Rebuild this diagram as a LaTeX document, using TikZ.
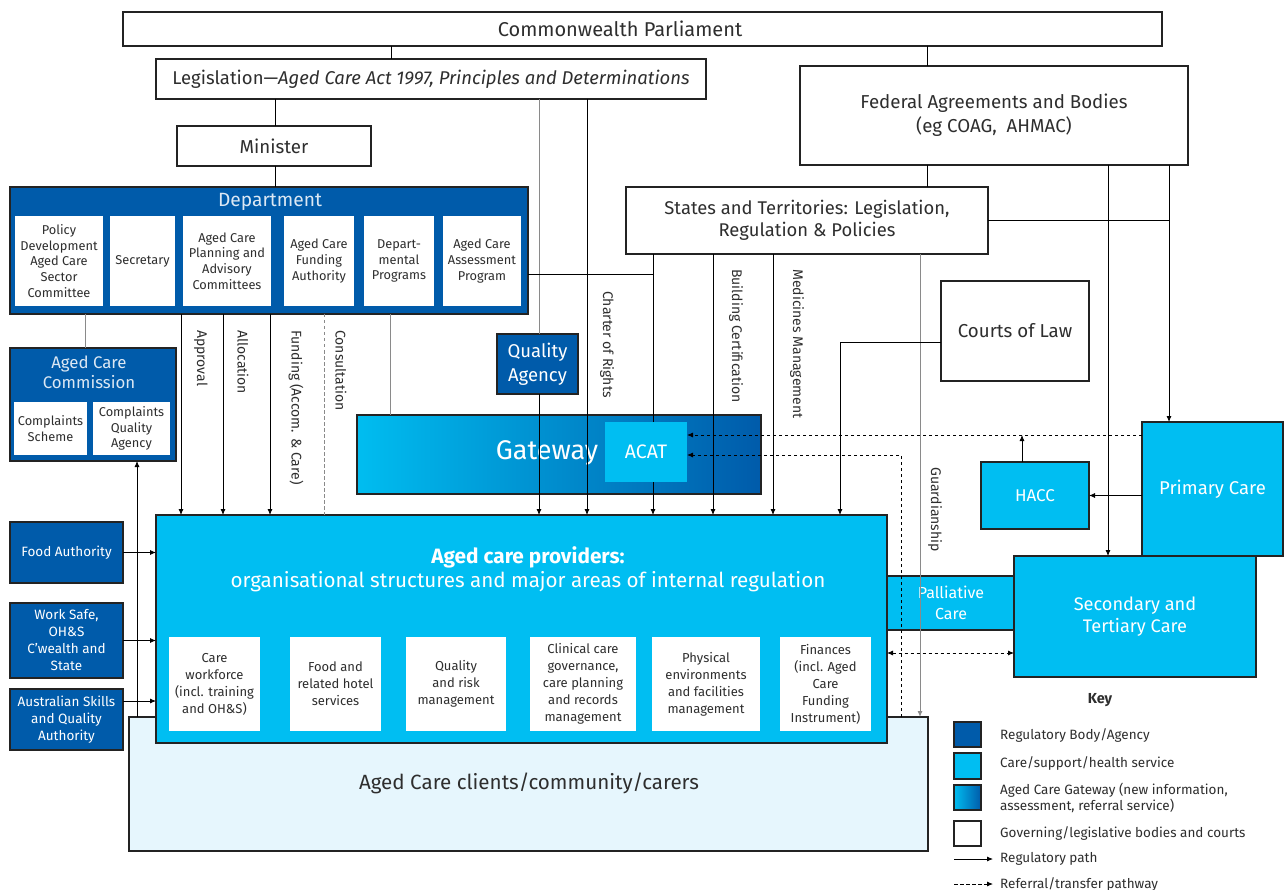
\documentclass[tikz,border=0pt]{standalone}
\usepackage{fontspec}
\setmainfont{Fira Sans}
\usetikzlibrary{arrows.meta}
\definecolor{regblue}{HTML}{005BAA}
\definecolor{carecyan}{HTML}{00BEF2}
\definecolor{gwleft}{HTML}{00BDF0}
\definecolor{clientbg}{HTML}{E6F6FD}
\definecolor{txt}{HTML}{2E2E2E}
\definecolor{bord}{HTML}{232323}
\definecolor{gline}{HTML}{8A8A8A}
\definecolor{paletxt}{HTML}{DCE8F4}
\newcommand{\fz}[2]{\fontsize{#1}{#2}\selectfont}
\tikzset{
  wh/.style 2 args={minimum width=#1pt, minimum height=#2pt},
  box/.style={draw=bord, line width=1.2pt, inner sep=0pt, outer sep=0pt, anchor=north west, align=center, text=txt},
  govbox/.style={box, fill=white},
  regbox/.style={box, fill=regblue, text=white},
  carebox/.style={box, fill=carecyan, text=white},
  inbox/.style={fill=white, draw=none, inner sep=0pt, outer sep=0pt, anchor=north west, align=center, text=txt},
  ln/.style={line width=0.8pt, draw=black},
  gln/.style={line width=1pt, draw=gline},
  tip/.style={-{Latex[length=6pt,width=5pt]}},
  reg/.style={ln, tip},
  ref/.style={ln, dash pattern=on 3.5pt off 2.5pt, tip},
  vlab/.style={rotate=-90, anchor=west, text=txt, font=\fz{14}{16}, inner sep=0pt},
  keytxt/.style={anchor=west, text=txt, font=\fz{13.5}{16}, inner sep=0pt, align=left}
}
\begin{document}
\begin{tikzpicture}[x=1pt, y=-1pt]
\useasboundingbox[fill=white] (0,0) rectangle (1287,890);

% ---------- column coordinates ----------
\coordinate (cLeg) at (391,0);
\coordinate (cFed) at (927,0);
\coordinate (cMin) at (275,0);
\coordinate (cCom) at (85,0);
\coordinate (cApp) at (181,0);
\coordinate (cAll) at (223,0);
\coordinate (cFun) at (270,0);
\coordinate (cCon) at (324,0);
\coordinate (cGw) at (390,0);
\coordinate (cCh) at (587,0);
\coordinate (cQa) at (539,0);
\coordinate (acJ) at (653,274);
\coordinate (cBc) at (713,0);
\coordinate (cMm) at (773,0);
\coordinate (cGu) at (920,0);
\coordinate (cSec) at (1108,0);
\coordinate (cPri) at (1169,0);
\coordinate (ctJ) at (840,342);
\coordinate (dJ) at (901,455);
\coordinate (rJ) at (1022,435);
\coordinate (cCm) at (137,0);
\coordinate (pJ) at (0,653);
\coordinate (aJ) at (0,701);

% ---------- governing bodies ----------
\node[govbox, wh={1039}{34}] (par) at (123,12) {};
\node[text=txt, font=\fz{20}{22}, inner sep=0pt] (parT) at (620,29) {Commonwealth Parliament};
\node[govbox, wh={550}{40}, font=\fz{18.5}{21}] (leg) at (156,59) {Legislation---\textit{Aged Care Act 1997, Principles and Determinations}};
\node[govbox, wh={194}{40}, font=\fz{18.7}{21}] (min) at (177,126) {Minister};
\node[govbox, wh={388}{99}, font=\fz{18.7}{24}] (fed) at (800,66) {Federal Agreements and Bodies\\(eg COAG,\ \ AHMAC)};
\node[govbox, wh={362}{67}, font=\fz{18.4}{22}] (st) at (626,187) {States and Territories: Legislation,\\Regulation \& Policies};
\node[govbox, wh={148}{100}, font=\fz{18.7}{21}] (ct) at (941,281) {Courts of Law};

% ---------- Department ----------
\node[regbox, wh={518}{127}] (dept) at (10,187) {};
\node[text=paletxt, font=\fz{19.2}{21}, inner sep=0pt] (deptT) at (270,202) {Department};
\node[inbox, wh={88}{90}, font=\fz{12.8}{15.6}] (d1) at (15,216) {Policy\\Development\\Aged Care\\Sector\\Committee};
\node[inbox, wh={65}{90}, font=\fz{12.8}{15.6}] (d2) at (110,216) {Secretary};
\node[inbox, wh={88}{90}, font=\fz{12.8}{15.6}] (d3) at (183,216) {Aged Care\\Planning and\\Advisory\\Committees};
\node[inbox, wh={70}{90}, font=\fz{12.8}{15.6}] (d4) at (284,216) {Aged Care\\Funding\\Authority};
\node[inbox, wh={70}{90}, font=\fz{12.8}{15.6}] (d5) at (364,216) {Depart-\\mental\\Programs};
\node[inbox, wh={78}{90}, font=\fz{12.8}{15.6}] (d6) at (443,216) {Aged Care\\Assessment\\Program};

% ---------- Aged Care Commission ----------
\node[regbox, wh={166}{113}] (comm) at (10,348) {};
\node[text=paletxt, font=\fz{16.8}{20}, align=center, inner sep=0pt] (commT) at (89,372) {Aged Care\\Commission};
\node[inbox, wh={73}{53}, font=\fz{12.8}{15.6}] (c1) at (14,402) {Complaints\\Scheme};
\node[inbox, wh={77}{53}, font=\fz{12.8}{15.6}] (c2) at (93,402) {Complaints\\Quality\\Agency};

% ---------- Quality Agency, Gateway ----------
\node[regbox, wh={81}{60}, font=\fz{18.5}{24}] (qa) at (497,334) {Quality\\Agency};
\node[box, wh={404}{79}, left color=gwleft, right color=regblue] (gw) at (357,415) {};
\node[text=white, font=\fz{27}{30}, inner sep=0pt] (gwT) at (547,453) {Gateway};
\node[box, draw=none, fill=carecyan, text=white, wh={82}{60}, font=\fz{19.5}{22}] (acat) at (605,422) {ACAT};

% ---------- clients and providers ----------
\node[box, fill=clientbg, wh={799}{134}] (cl) at (129,717) {};
\node[text=txt, font=\fz{20.6}{23}, inner sep=0pt] (clT) at (529,783) {Aged Care clients/community/carers};
\node[carebox, wh={731}{228}] (prov) at (156,515) {};
\node[text=white, font=\fz{20.8}{23}, inner sep=0pt] (provT) at (528,557) {\textbf{Aged care providers:}};
\node[text=white, font=\fz{20.6}{23}, inner sep=0pt] (provS) at (528,582) {organisational structures and major areas of internal regulation};
\node[inbox, wh={91}{94}, font=\fz{13}{17}] (p1) at (169,637) {Care\\workforce\\(incl. training\\and OH\&S)};
\node[inbox, wh={91}{94}, font=\fz{13}{17}] (p2) at (290,637) {Food and\\related hotel\\services};
\node[inbox, wh={100}{94}, font=\fz{13}{17}] (p3) at (406,637) {Quality\\and risk\\management};
\node[inbox, wh={106}{94}, font=\fz{13}{17}] (p4) at (530,637) {Clinical care\\governance,\\care planning\\and records\\management};
\node[inbox, wh={108}{94}, font=\fz{13}{17}] (p5) at (652,637) {Physical\\environments\\and facilities\\management};
\node[inbox, wh={91}{94}, font=\fz{13}{17}] (p6) at (780,637) {Finances\\(incl. Aged\\Care\\Funding\\Instrument)};

% ---------- left regulators ----------
\node[regbox, wh={113}{61}, font=\fz{13.5}{17}] (fa) at (10,522) {Food Authority};
\node[regbox, wh={113}{75}, font=\fz{13.5}{17}] (ws) at (10,603) {Work Safe,\\OH\&S\\C’wealth and\\State};
\node[regbox, wh={113}{61}, font=\fz{13.5}{17}] (asqa) at (10,689) {Australian Skills\\and Quality\\Authority};

% ---------- right-hand care services ----------
\node[carebox, wh={128}{54}, font=\fz{16}{21}] (pal) at (887,576) {Palliative\\Care};
\node[carebox, wh={242}{121}, font=\fz{18.2}{22}] (sec) at (1014,556) {Secondary and\\Tertiary Care};
\node[carebox, wh={141}{134}, font=\fz{18.5}{21}] (pri) at (1142,422) {Primary Care};
\node[carebox, wh={108}{67}, font=\fz{17}{20}] (hacc) at (981,462) {HACC};

% ---------- connectors ----------
\draw[ln] (par.south -| cLeg) -- (leg.north -| cLeg);
\draw[ln] (par.south -| cFed) -- (fed.north -| cFed);
\draw[ln] (leg.south -| cMin) -- (min.north -| cMin);
\draw[ln] (min.south -| cMin) -- (dept.north -| cMin);
\draw[gln] (leg.south -| cQa) -- (qa.north -| cQa);
\draw[reg] (qa.south -| cQa) -- (prov.north -| cQa);
\draw[reg] (leg.south -| cCh) -- (prov.north -| cCh);
\draw[gln] (dept.south -| cCom) -- (comm.north -| cCom);
\draw[reg] (dept.south -| cApp) -- (prov.north -| cApp);
\draw[reg] (dept.south -| cAll) -- (prov.north -| cAll);
\draw[reg] (dept.south -| cFun) -- (prov.north -| cFun);
\draw[gln, dash pattern=on 3.5pt off 2.5pt] (dept.south -| cCon) -- (prov.north -| cCon);
\draw[gln] (dept.south -| cGw) -- (gw.north -| cGw);
\draw[ln] (dept.east |- acJ) -- (acJ);
\draw[ln] (st.south -| acJ) -- (acat.north -| acJ);
\draw[reg] (acat.south -| acJ) -- (prov.north -| acJ);
\draw[reg] (st.south -| cBc) -- (prov.north -| cBc);
\draw[reg] (st.south -| cMm) -- (prov.north -| cMm);
\draw[gln, tip] (st.south -| cGu) -- (cl.north -| cGu);
\draw[ln] (fed.south -| cFed) -- (st.north -| cFed);
\draw[reg] (fed.south -| cSec) -- (sec.north -| cSec);
\draw[reg] (fed.south -| cPri) -- (pri.north -| cPri);
\draw[ln] (st.east) -- (st.east -| cPri);
\draw[reg] (ct.west |- ctJ) -- (ctJ) -- (prov.north -| ctJ);
\draw[ref] (cl.north -| dJ) -- (dJ) -- (acat.east |- dJ);
\draw[ref] (pri.west |- rJ) -- (acat.east |- rJ);
\draw[reg] (hacc.north -| rJ) -- (rJ);
\draw[reg] (pri.west |- hacc.east) -- (hacc.east);
\draw[reg] (fa.east) -- (fa.east -| prov.west);
\draw[reg] (ws.east) -- (ws.east -| prov.west);
\draw[reg] (asqa.east |- aJ) -- (prov.west |- aJ);
\draw[reg] (cl.north -| cCm) -- (comm.south -| cCm);
\draw[ln, dash pattern=on 3.5pt off 2.5pt, {Latex[length=6pt,width=5pt]}-{Latex[length=6pt,width=5pt]}] (prov.east |- pJ) -- (sec.west |- pJ);

% ---------- connector labels ----------
\node[vlab] at (201,330) {Approval};
\node[vlab] at (243,330) {Allocation};
\node[vlab] at (296,330) {Funding (Accom. \& Care)};
\node[vlab] at (341,330) {Consultation};
\node[vlab] at (607,291) {Charter of Rights};
\node[vlab] at (736,269) {Building Certification};
\node[vlab] at (797,269) {Medicines Management};
\node[vlab] at (935,467) {Guardianship};

% ---------- key ----------
\node[text=txt, font=\fz{14.5}{17}\bfseries, inner sep=0pt] (keyT) at (1100,700) {Key};
\node[regbox, wh={27}{25}] (k1) at (954,722) {};
\node[carebox, wh={27}{26}] (k2) at (954,753) {};
\node[box, wh={27}{25}, left color=gwleft, right color=regblue] (k3) at (954,785) {};
\node[govbox, wh={27}{25}] (k4) at (954,821) {};
\coordinate (k5a) at (954,859);
\coordinate (k5b) at (993,859);
\coordinate (k6a) at (954,884);
\coordinate (k6b) at (993,884);
\draw[reg] (k5a) -- (k5b);
\draw[ref] (k6a) -- (k6b);
\node[keytxt] at (1000,735) {Regulatory Body/Agency};
\node[keytxt] at (1000,763) {Care/support/health service};
\node[keytxt] at (1000,798) {Aged Care Gateway (new information,\\assessment, referral service)};
\node[keytxt] at (1000,833) {Governing/legislative bodies and courts};
\node[keytxt] at (1000,859) {Regulatory path};
\node[keytxt] at (1000,884) {Referral/transfer pathway};
\end{tikzpicture}
\end{document}
